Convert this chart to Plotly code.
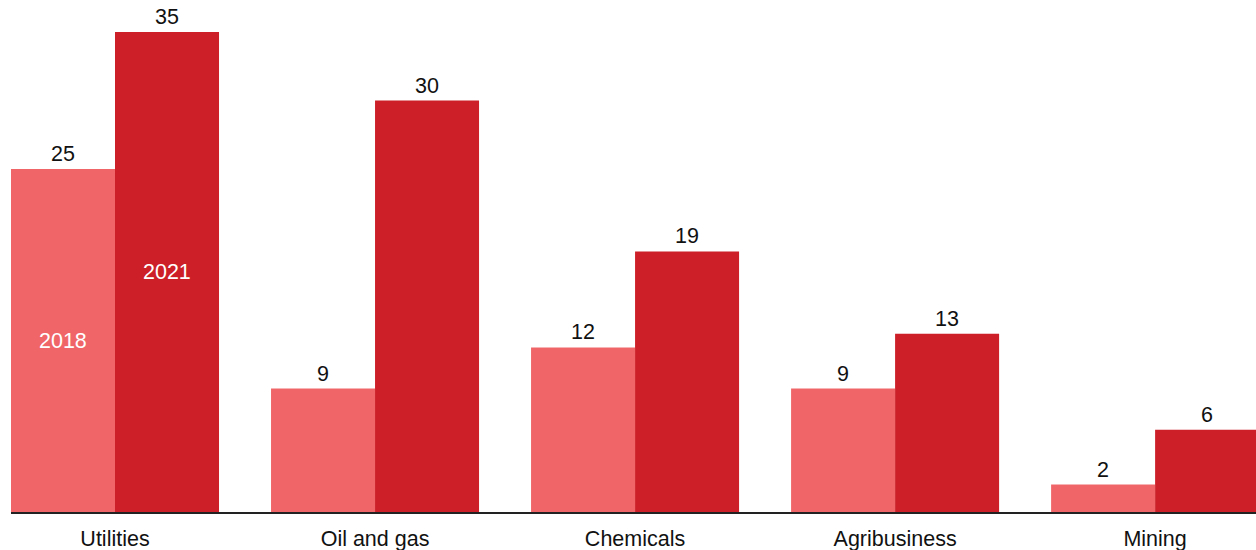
import plotly.graph_objects as go

categories = ["Utilities", "Oil and gas", "Chemicals", "Agribusiness", "Mining"]
values_2018 = [25, 9, 12, 9, 2]
values_2021 = [35, 30, 19, 13, 6]
series_names = ["2018", "2021"]

color_2018 = "#F06668"
color_2021 = "#CC1F27"
font_family = "Liberation Sans, Arial, sans-serif"
font_size = 21.5

fig = go.Figure()
for name, vals, col in [(series_names[0], values_2018, color_2018),
                        (series_names[1], values_2021, color_2021)]:
    fig.add_trace(go.Bar(
        name=name,
        x=categories,
        y=vals,
        marker=dict(color=col, line=dict(width=0)),
        text=[str(v) for v in vals],
        textposition="outside",
        textfont=dict(family=font_family, size=font_size, color="#111111"),
        cliponaxis=False,
    ))

# Series names written inside the first group's bars
fig.add_annotation(x=-0.2, y=values_2018[0] / 2, text=series_names[0], showarrow=False,
                   font=dict(family=font_family, size=font_size, color="white"))
fig.add_annotation(x=0.2, y=values_2021[0] / 2, text=series_names[1], showarrow=False,
                   font=dict(family=font_family, size=font_size, color="white"))

fig.update_layout(
    width=1256, height=550,
    margin=dict(l=11, r=0, t=0, b=38),
    barmode="group",
    bargap=0.2,
    bargroupgap=0,
    showlegend=False,
    plot_bgcolor="white",
    paper_bgcolor="white",
    font=dict(family=font_family, size=font_size, color="#111111"),
    xaxis=dict(
        range=[-0.4, 4.388],
        showgrid=False,
        showline=True,
        linecolor="#222222",
        linewidth=2,
        ticks="",
        ticklabelstandoff=6,
        tickfont=dict(family=font_family, size=font_size, color="#111111"),
    ),
    yaxis=dict(
        range=[0, 37.33],
        showgrid=False,
        zeroline=False,
        showline=False,
        showticklabels=False,
    ),
)

fig.write_html("out.html")
